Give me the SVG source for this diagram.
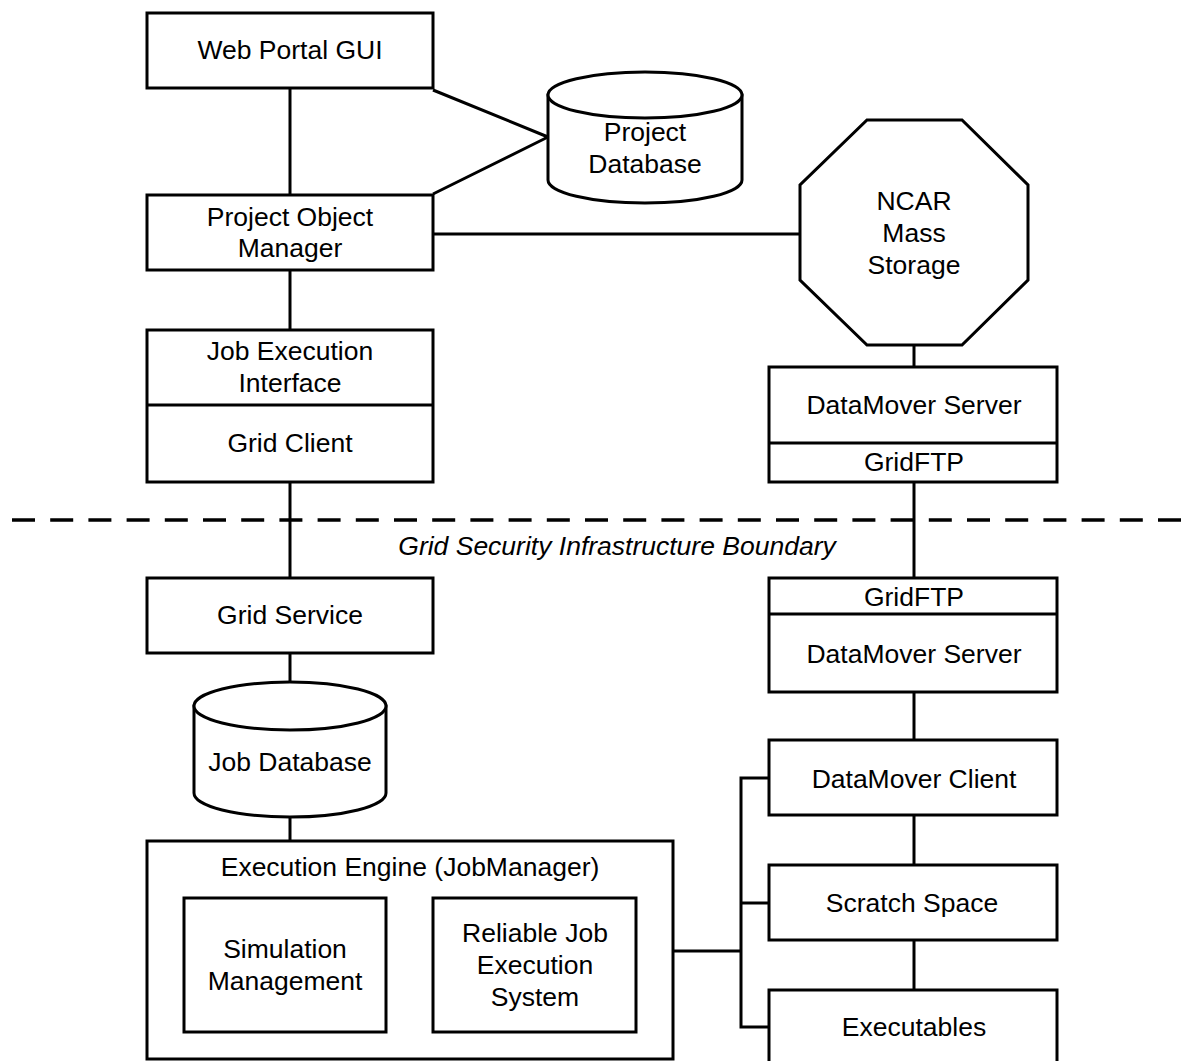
<svg xmlns="http://www.w3.org/2000/svg" width="1198" height="1061" viewBox="0 0 1198 1061">
  <style>
    .box { fill: #fff; stroke: #000; stroke-width: 3; }
    .ln { fill: none; stroke: #000; stroke-width: 3; }
    text { font-family: "Liberation Sans", Arial, sans-serif; font-size: 26.5px; fill: #000; text-anchor: middle; }
    .it { font-style: italic; }
  </style>
  <rect width="1198" height="1061" fill="#fff"/>

  <!-- connectors -->
  <g id="connectors" class="ln">
    <line x1="290" y1="88" x2="290" y2="195"/>
    <polyline points="433,90 548,137 433,194"/>
    <line x1="433" y1="234" x2="801" y2="234"/>
    <line x1="290" y1="270" x2="290" y2="330"/>
    <line x1="290" y1="482" x2="290" y2="578"/>
    <line x1="290" y1="653" x2="290" y2="684"/>
    <line x1="290" y1="816" x2="290" y2="841"/>
    <line x1="914" y1="345" x2="914" y2="367"/>
    <line x1="914" y1="482" x2="914" y2="578"/>
    <line x1="914" y1="692" x2="914" y2="740"/>
    <line x1="914" y1="815" x2="914" y2="865"/>
    <line x1="914" y1="940" x2="914" y2="990"/>
    <line x1="673" y1="951" x2="741" y2="951"/>
    <polyline points="769,778 741,778 741,1027 769,1027"/>
    <line x1="741" y1="903" x2="769" y2="903"/>
  </g>

  <!-- security boundary -->
  <g id="boundary">
    <line x1="12" y1="520" x2="1190" y2="520" stroke="#000" stroke-width="3.5" stroke-dasharray="23 15.2"/>
    <text class="it" x="617" y="555">Grid Security Infrastructure Boundary</text>
  </g>

  <g id="web-portal">
    <rect class="box" x="147" y="13" width="286" height="75"/>
    <text x="290" y="59">Web Portal GUI</text>
  </g>

  <g id="project-database">
    <path class="box" d="M548,95 L548,180 A97,23 0 0 0 742,180 L742,95 Z"/>
    <ellipse class="box" cx="645" cy="95" rx="97" ry="23"/>
    <text x="645" y="141">Project</text>
    <text x="645" y="173">Database</text>
  </g>

  <g id="project-object-manager">
    <rect class="box" x="147" y="195" width="286" height="75"/>
    <text x="290" y="226">Project Object</text>
    <text x="290" y="257">Manager</text>
  </g>

  <g id="mass-storage">
    <polygon class="box" points="867,120 962,120 1028,185 1028,280 962,345 867,345 800,280 800,185"/>
    <text x="914" y="210">NCAR</text>
    <text x="914" y="242">Mass</text>
    <text x="914" y="274">Storage</text>
  </g>

  <g id="job-execution-interface">
    <rect class="box" x="147" y="330" width="286" height="152"/>
    <line class="ln" x1="147" y1="405" x2="433" y2="405"/>
    <text x="290" y="360">Job Execution</text>
    <text x="290" y="392">Interface</text>
    <text x="290" y="452">Grid Client</text>
  </g>

  <g id="datamover-server-ncar">
    <rect class="box" x="769" y="367" width="288" height="115"/>
    <line class="ln" x1="769" y1="443" x2="1057" y2="443"/>
    <text x="914" y="414">DataMover Server</text>
    <text x="914" y="471">GridFTP</text>
  </g>

  <g id="grid-service">
    <rect class="box" x="147" y="578" width="286" height="75"/>
    <text x="290" y="624">Grid Service</text>
  </g>

  <g id="datamover-server-site">
    <rect class="box" x="769" y="578" width="288" height="114"/>
    <line class="ln" x1="769" y1="614" x2="1057" y2="614"/>
    <text x="914" y="606">GridFTP</text>
    <text x="914" y="663">DataMover Server</text>
  </g>

  <g id="job-database">
    <path class="box" d="M194,706 L194,793 A96,24 0 0 0 386,793 L386,706 Z"/>
    <ellipse class="box" cx="290" cy="706" rx="96" ry="24"/>
    <text x="290" y="771">Job Database</text>
  </g>

  <g id="datamover-client">
    <rect class="box" x="769" y="740" width="288" height="75"/>
    <text x="914" y="788">DataMover Client</text>
  </g>

  <g id="execution-engine">
    <rect class="box" x="147" y="841" width="526" height="218"/>
    <text x="410" y="876">Execution Engine (JobManager)</text>
  </g>

  <g id="simulation-management">
    <rect class="box" x="184" y="898" width="202" height="134"/>
    <text x="285" y="958">Simulation</text>
    <text x="285" y="990">Management</text>
  </g>

  <g id="reliable-job-execution">
    <rect class="box" x="433" y="898" width="203" height="134"/>
    <text x="535" y="942">Reliable Job</text>
    <text x="535" y="974">Execution</text>
    <text x="535" y="1006">System</text>
  </g>

  <g id="scratch-space">
    <rect class="box" x="769" y="865" width="288" height="75"/>
    <text x="912" y="912">Scratch Space</text>
  </g>

  <g id="executables">
    <rect class="box" x="769" y="990" width="288" height="80"/>
    <text x="914" y="1036">Executables</text>
  </g>
</svg>
